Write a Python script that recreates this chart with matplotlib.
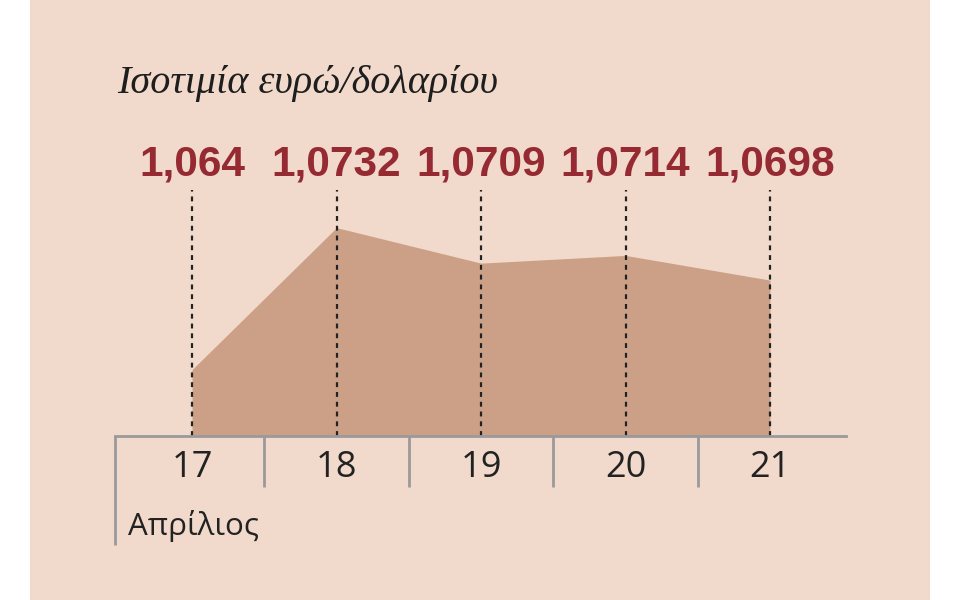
import matplotlib.pyplot as plt
from matplotlib.patches import Rectangle
from matplotlib.transforms import blended_transform_factory

days = ['17', '18', '19', '20', '21']
rates = [1.064, 1.0732, 1.0709, 1.0714, 1.0698]
rate_labels = ['1,064', '1,0732', '1,0709', '1,0714', '1,0698']
month = 'Απρίλιος'
title = 'Ισοτιμία ευρώ/δολαρίου'

bg = '#f1dacb'
fill = '#cca087'
red = '#952a33'
grey = '#9a9a9a'

W, H = 960, 600
fig = plt.figure(figsize=(W / 100, H / 100), dpi=100)
fig.patch.set_facecolor('white')
fig.patches.append(Rectangle((30 / W, 0), 900 / W, 1, transform=fig.transFigure,
                             facecolor=bg, edgecolor='none', zorder=-10))

# axes: baseline at y=436px, from x=115 to 846px
ax = fig.add_axes([115 / W, 1 - 436 / H, (846 - 115) / W, (436 - 130) / H])
ax.patch.set_alpha(0)
x = list(range(len(days)))
ax.set_xlim(-0.533, 4.526)
ymin = 1.0597
ax.set_ylim(ymin, ymin + 306 / 15435)

ax.fill_between(x, rates, ymin, color=fill, lw=0, zorder=1)

axh = 306.0
for xi in x:
    ax.axvline(xi, ymin=0, ymax=(436 - 190) / axh, color='#222222', lw=1.6,
               ls=(0, (2.2, 2.2)), zorder=2)

for s in ['top', 'right', 'left']:
    ax.spines[s].set_visible(False)
ax.spines['bottom'].set_color(grey)
ax.spines['bottom'].set_linewidth(2)
ax.spines['bottom'].set_zorder(3)
ax.set_xticks([])
ax.set_yticks([])

tr = blended_transform_factory(ax.transData, ax.transAxes)
# separators under the baseline
seps = [-0.533] + [xi + 0.5 for xi in x[:-1]]
for i, sx in enumerate(seps):
    low = -(545 - 436) / axh if i == 0 else -(487 - 436) / axh
    ax.plot([sx, sx], [0, low], transform=tr, color=grey, lw=2, clip_on=False,
            solid_capstyle='butt')

for xi, d in zip(x, days):
    ax.text(xi, -(468 - 436) / axh, d, transform=tr, ha='center', va='center',
            fontsize=26, family='Open Sans', color='#222222')

ax.text(-0.443, -(526 - 436) / axh, month, transform=tr, ha='left', va='center',
        fontsize=22.5, family='Open Sans', color='#222222')

for xi, lab in zip(x, rate_labels):
    ax.text(xi, (436 - 175) / axh, lab, transform=tr, ha='center', va='baseline',
            fontsize=30.5, fontweight='bold', family='Liberation Sans', color=red)

fig.text(117 / W, 1 - 93 / H, title, ha='left', va='baseline', fontsize=29,
         style='italic', family='Liberation Serif', color='#1e1e1e')

fig.savefig('out.png', dpi=100)
plt.close()
